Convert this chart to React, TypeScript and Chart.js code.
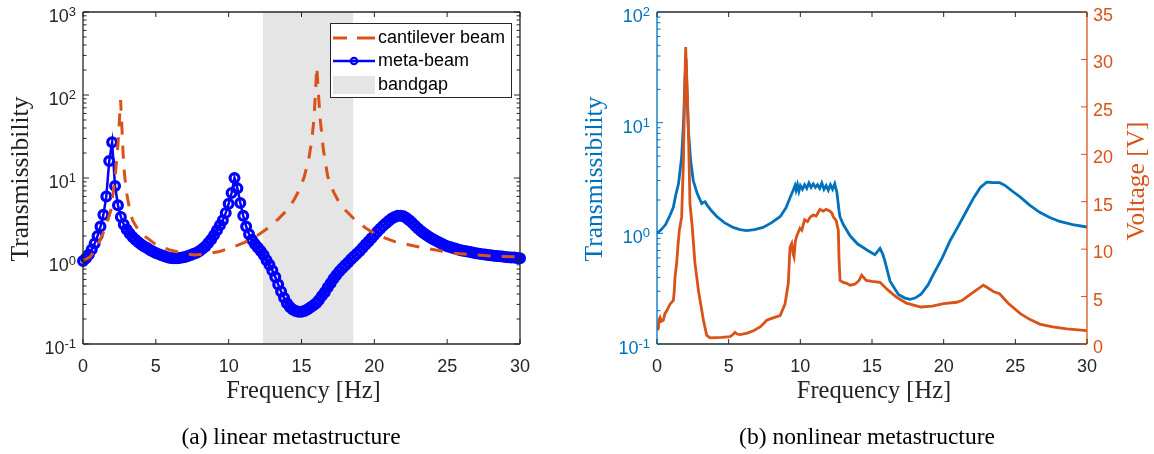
import React, { useEffect, useRef } from "react";
import { Chart, registerables } from "chart.js";
Chart.register(...registerables);

// ---------- (a) linear metastructure ----------
const cantileverFreq = [
  0, 0.5, 1.0, 1.5, 1.9, 2.2, 2.4, 2.5, 2.58, 2.66,
  2.75, 2.85, 3.0, 3.2, 3.4, 3.8, 4.3, 5.0, 5.9, 7.0,
  7.7, 8.5, 9.3, 10.2, 11.1, 12.0, 12.7, 13.4, 14.0, 14.5,
  14.9, 15.2, 15.5, 15.7, 15.85, 15.95, 16.05, 16.15, 16.3, 16.5,
  16.8, 17.2, 17.5, 18.0, 18.7, 19.4, 20.0, 20.7, 21.4, 22.5,
  23.5, 24.5, 25.5, 27.0, 28.7, 30.0,
];
const cantileverT = [
  1.0, 1.12, 1.55, 2.4, 4.0, 10, 25, 50, 87, 45,
  20, 11, 6.5, 4.2, 3.1, 2.35, 1.95, 1.58, 1.37, 1.22,
  1.18, 1.22, 1.29, 1.45, 1.68, 2.05, 2.5, 3.2, 4.1, 5.5,
  7.5, 10.5, 17, 28, 50, 100, 218, 110, 48, 22,
  10.4, 6.8, 5.4, 4.1, 3.1, 2.5, 2.15, 1.9, 1.71, 1.55,
  1.43, 1.33, 1.24, 1.18, 1.13, 1.12,
];

const metaFreq = [
  0.0, 0.2, 0.4, 0.6, 0.8, 1.0, 1.2, 1.4, 1.6, 1.8,
  2.0, 2.2, 2.4, 2.6, 2.8, 3.0, 3.2, 3.4, 3.6, 3.8,
  4.0, 4.2, 4.4, 4.6, 4.8, 5.0, 5.2, 5.4, 5.6, 5.8,
  6.0, 6.2, 6.4, 6.6, 6.8, 7.0, 7.2, 7.4, 7.6, 7.8,
  8.0, 8.2, 8.4, 8.6, 8.8, 9.0, 9.2, 9.4, 9.6, 9.8,
  10.0, 10.2, 10.4, 10.6, 10.8, 11.0, 11.2, 11.4, 11.6, 11.8,
  12.0, 12.2, 12.4, 12.6, 12.8, 13.0, 13.2, 13.4, 13.6, 13.8,
  14.0, 14.2, 14.4, 14.6, 14.8, 15.0, 15.2, 15.4, 15.6, 15.8,
  16.0, 16.2, 16.4, 16.6, 16.8, 17.0, 17.2, 17.4, 17.6, 17.8,
  18.0, 18.2, 18.4, 18.6, 18.8, 19.0, 19.2, 19.4, 19.6, 19.8,
  20.0, 20.2, 20.4, 20.6, 20.8, 21.0, 21.2, 21.4, 21.6, 21.8,
  22.0, 22.2, 22.4, 22.6, 22.8, 23.0, 23.2, 23.4, 23.6, 23.8,
  24.0, 24.2, 24.4, 24.6, 24.8, 25.0, 25.2, 25.4, 25.6, 25.8,
  26.0, 26.2, 26.4, 26.6, 26.8, 27.0, 27.2, 27.4, 27.6, 27.8,
  28.0, 28.2, 28.4, 28.6, 28.8, 29.0, 29.2, 29.4, 29.6, 29.8,
  30.0,
];
const metaT = [
  1.0, 1.08, 1.2, 1.38, 1.62, 2.0, 2.6, 3.6, 6.0, 16.0,
  27.0, 8.0, 4.7, 3.4, 2.75, 2.4, 2.15, 1.95, 1.8, 1.68,
  1.58, 1.5, 1.43, 1.36, 1.3, 1.25, 1.21, 1.17, 1.14, 1.11,
  1.09, 1.08, 1.08, 1.09, 1.1, 1.12, 1.15, 1.18, 1.22, 1.26,
  1.32, 1.4, 1.5, 1.65, 1.82, 2.05, 2.35, 2.7, 3.1, 3.8,
  4.9, 6.6, 10.0, 7.5, 5.0, 3.5, 2.6, 2.1, 1.8, 1.6,
  1.45, 1.32, 1.18, 1.02, 0.9, 0.77, 0.64, 0.52, 0.43, 0.36,
  0.31, 0.28, 0.26, 0.25, 0.245, 0.245, 0.25, 0.26, 0.275, 0.29,
  0.31, 0.34, 0.38, 0.42, 0.48, 0.54, 0.61, 0.68, 0.75, 0.82,
  0.89, 0.96, 1.05, 1.13, 1.22, 1.32, 1.44, 1.58, 1.72, 1.88,
  2.05, 2.25, 2.45, 2.65, 2.85, 3.05, 3.25, 3.4, 3.5, 3.52,
  3.45, 3.3, 3.1, 2.88, 2.66, 2.46, 2.3, 2.16, 2.04, 1.93,
  1.84, 1.76, 1.69, 1.62, 1.56, 1.51, 1.47, 1.43, 1.4, 1.37,
  1.34, 1.32, 1.3, 1.28, 1.26, 1.24, 1.22, 1.21, 1.2, 1.18,
  1.17, 1.16, 1.15, 1.14, 1.13, 1.12, 1.11, 1.1, 1.1, 1.09,
  1.08,
];
const bandgap = [12.35, 18.55];

// ---------- (b) nonlinear metastructure ----------
const nlFreqT = [
  0.0, 0.3, 0.6, 0.9, 1.14, 1.3, 1.5, 1.72, 1.85, 1.95,
  2.02, 2.1, 2.19, 2.35, 2.53, 2.8, 3.12, 3.22, 3.35, 3.5,
  3.8, 4.17, 4.7, 5.3, 5.8, 6.26, 6.8, 7.4, 8.0, 8.6,
  9.0, 9.28, 9.5, 9.63, 9.7, 9.8, 9.9, 10.0, 10.15, 10.3,
  10.45, 10.6, 10.75, 10.9, 11.05, 11.2, 11.35, 11.5, 11.65, 11.8,
  11.95, 12.1, 12.25, 12.4, 12.55, 12.7, 12.77, 13.0, 13.47, 14.0,
  14.28, 14.7, 15.2, 15.45, 15.56, 15.75, 15.9, 16.26, 16.84, 17.3,
  17.66, 18.0, 18.4, 18.9, 19.3, 19.9, 20.45, 21.0, 21.6, 22.1,
  22.56, 23.0, 23.4, 23.9, 24.3, 24.8, 25.35, 26.0, 26.7, 27.4,
  28.1, 29.0, 30.0,
];
const nlTrans = [
  1.0, 1.08, 1.2, 1.45, 1.72, 2.2, 2.8, 4.9, 10, 24,
  38, 18, 8.5, 4.5, 3.0, 2.3, 1.86, 1.9, 1.93, 1.8,
  1.6, 1.42, 1.25, 1.13, 1.08, 1.06, 1.08, 1.13, 1.25, 1.42,
  1.7, 2.1, 2.45, 2.7, 2.45, 2.75, 2.4, 2.7, 2.5, 2.75,
  2.55, 2.85, 2.6, 2.8, 2.6, 2.75, 2.55, 2.85, 2.5, 2.7,
  2.45, 2.75, 2.5, 2.8, 2.35, 1.6, 1.4, 1.2, 0.95, 0.8,
  0.76, 0.7, 0.64, 0.7, 0.73, 0.65, 0.56, 0.37, 0.28, 0.26,
  0.253, 0.26, 0.28, 0.34, 0.43, 0.6, 0.86, 1.15, 1.6, 2.1,
  2.6, 2.9, 2.88, 2.87, 2.7, 2.4, 2.12, 1.8, 1.55, 1.39,
  1.28, 1.2, 1.14,
];
const nlFreqV = [
  0.0, 0.09, 0.15, 0.21, 0.3, 0.44, 0.55, 0.68, 0.91, 1.14,
  1.2, 1.26, 1.37, 1.47, 1.56, 1.72, 1.84, 1.95, 2.0, 2.08,
  2.19, 2.3, 2.45, 2.65, 2.89, 3.05, 3.24, 3.47, 3.7, 4.5,
  5.09, 5.3, 5.44, 5.6, 5.8, 6.3, 6.73, 7.2, 7.66, 8.1,
  8.59, 8.93, 9.16, 9.28, 9.4, 9.5, 9.56, 9.65, 9.73, 9.97,
  10.1, 10.3, 10.5, 10.7, 10.9, 11.1, 11.37, 11.6, 11.8, 12.07,
  12.2, 12.3, 12.5, 12.65, 12.7, 12.77, 13.0, 13.24, 13.47, 13.8,
  14.1, 14.28, 14.6, 15.0, 15.56, 16.1, 16.7, 17.4, 18.4, 19.2,
  20.0, 20.9, 21.3, 21.6, 22.2, 22.77, 23.1, 23.5, 23.9, 24.5,
  25.35, 26.0, 26.7, 27.6, 28.6, 30.0,
];
const nlVolt = [
  1.5, 1.6, 2.6, 2.8, 2.4, 2.5, 3.2, 3.5, 4.2, 4.6,
  5.5, 7.1, 8.5, 10.5, 12.0, 13.4, 19.1, 28, 31.3, 28,
  22.6, 14.8, 12.5, 8.5, 5.65, 4.2, 2.5, 0.9, 0.64, 0.7,
  0.77, 1.0, 1.23, 1.05, 1.0, 1.15, 1.4, 1.8, 2.5, 2.75,
  3.0, 4.2, 6.4, 10.2, 10.6, 9.5, 9.2, 10.8, 11.3, 12.2,
  12.0, 13.1, 12.9, 13.4, 13.6, 13.5, 14.2, 14.0, 14.2, 14.0,
  13.8, 13.4, 13.0, 12.0, 9.0, 6.7, 6.5, 6.4, 6.2, 6.3,
  6.7, 7.25, 6.7, 6.6, 6.5, 5.7, 4.95, 4.3, 3.9, 4.0,
  4.25, 4.4, 4.6, 4.95, 5.6, 6.2, 5.9, 5.5, 5.3, 4.3,
  3.2, 2.6, 2.1, 1.8, 1.6, 1.4,
];

// ---------- ticks & labels ----------
const freqTicks = [0, 5, 10, 15, 20, 25, 30];
const decadesA = [-1, 0, 1, 2, 3];
const decadesB = [-1, 0, 1, 2];
const voltTicks = [0, 5, 10, 15, 20, 25, 30, 35];
const legendLabels = ["cantilever beam", "meta-beam", "bandgap"];

const BLUE = "#0072BD";
const ORANGE = "#D95319";
const META = "#0000FF";
const AX = "#262626";
const BAND = "#E5E5E5";
const SANS = '"Liberation Sans", Arial, sans-serif';
const SERIF = '"Liberation Serif", "Times New Roman", serif';

function seg(ctx: CanvasRenderingContext2D, x1: number, y1: number, x2: number, y2: number, color: string) {
  ctx.strokeStyle = color;
  ctx.beginPath();
  ctx.moveTo(x1, y1);
  ctx.lineTo(x2, y2);
  ctx.stroke();
}

type FrameCfg = {
  band?: number[];
  leftColor: string;
  rightColor: string;
  decades: number[];
  linId?: string;
  leftTitle: string;
  rightTitle?: string;
  caption: string;
  captionX: number;
  legend?: boolean;
};

function makeFrame(cfg: FrameCfg) {
  return {
    id: "frame",
    beforeDatasetsDraw(chart: any) {
      if (!cfg.band) return;
      const { ctx, chartArea: ca, scales } = chart;
      const x0 = scales.x.getPixelForValue(cfg.band[0]);
      const x1 = scales.x.getPixelForValue(cfg.band[1]);
      ctx.save();
      ctx.fillStyle = BAND;
      ctx.fillRect(x0, ca.top, x1 - x0, ca.bottom - ca.top);
      ctx.restore();
    },
    afterDraw(chart: any) {
      const { ctx, chartArea: ca, scales } = chart;
      const L = ca.left, R = ca.right, T = ca.top, B = ca.bottom;
      ctx.save();
      ctx.lineWidth = 1.3;
      seg(ctx, L, B, R, B, AX);
      seg(ctx, L, T, R, T, AX);
      seg(ctx, L, T, L, B, cfg.leftColor);
      seg(ctx, R, T, R, B, cfg.rightColor);

      ctx.lineWidth = 1;
      // x ticks + labels
      ctx.font = `18px ${SANS}`;
      ctx.fillStyle = AX;
      ctx.textAlign = "center";
      ctx.textBaseline = "alphabetic";
      for (const v of freqTicks) {
        const x = scales.x.getPixelForValue(v);
        seg(ctx, x, B, x, B - 5, AX);
        seg(ctx, x, T, x, T + 5, AX);
        ctx.fillText(String(v), x, B + 28);
      }
      // log y ticks
      const ys = scales.y;
      const dec = cfg.decades;
      for (let k = 0; k < dec.length; k++) {
        const d = dec[k];
        const y = ys.getPixelForValue(Math.pow(10, d));
        seg(ctx, L, y, L + 6, y, cfg.leftColor);
        if (!cfg.linId) seg(ctx, R, y, R - 6, y, AX);
        if (k < dec.length - 1) {
          for (let m = 2; m <= 9; m++) {
            const ym = ys.getPixelForValue(m * Math.pow(10, d));
            seg(ctx, L, ym, L + 3.5, ym, cfg.leftColor);
            if (!cfg.linId) seg(ctx, R, ym, R - 3.5, ym, AX);
          }
        }
        const sup = String(d);
        ctx.fillStyle = cfg.linId ? cfg.leftColor : AX;
        ctx.textAlign = "right";
        ctx.font = `13px ${SANS}`;
        const sw = ctx.measureText(sup).width;
        ctx.fillText(sup, L - 7, y + 4);
        ctx.font = `18px ${SANS}`;
        ctx.fillText("10", L - 7 - sw, y + 10);
      }
      // right linear axis
      if (cfg.linId) {
        const yr = scales[cfg.linId];
        ctx.font = `18px ${SANS}`;
        ctx.fillStyle = cfg.rightColor;
        ctx.textAlign = "left";
        for (const v of voltTicks) {
          const y = yr.getPixelForValue(v);
          seg(ctx, R, y, R - 6, y, cfg.rightColor);
          ctx.fillText(String(v), R + 6, y + 9);
        }
      }
      // axis titles
      ctx.font = `24.5px ${SERIF}`;
      ctx.textAlign = "center";
      ctx.fillStyle = "#222";
      ctx.fillText("Frequency [Hz]", (L + R) / 2 + 2, B + 54);
      ctx.font = `25.5px ${SERIF}`;
      ctx.save();
      ctx.translate(L - 62, (T + B) / 2 + 1);
      ctx.rotate(-Math.PI / 2);
      ctx.textBaseline = "middle";
      ctx.fillStyle = cfg.linId ? cfg.leftColor : "#222";
      ctx.fillText(cfg.leftTitle, 0, 0);
      ctx.restore();
      if (cfg.rightTitle) {
        ctx.save();
        ctx.translate(R + 50, (T + B) / 2 + 3);
        ctx.rotate(-Math.PI / 2);
        ctx.textBaseline = "middle";
        ctx.fillStyle = cfg.rightColor;
        ctx.fillText(cfg.rightTitle, 0, 0);
        ctx.restore();
      }
      // caption
      ctx.font = `23.5px ${SERIF}`;
      ctx.fillStyle = "#000";
      ctx.textAlign = "center";
      ctx.textBaseline = "alphabetic";
      ctx.fillText(cfg.caption, cfg.captionX, 444);

      // legend
      if (cfg.legend) {
        const bx = R - 190, by = T + 11, bw = 181, bh = 74;
        ctx.fillStyle = "#fff";
        ctx.fillRect(bx, by, bw, bh);
        ctx.lineWidth = 1;
        ctx.strokeStyle = AX;
        ctx.strokeRect(bx + 0.5, by + 0.5, bw, bh);
        const sx0 = R - 187, sx1 = R - 145, tx = R - 142;
        const r1 = T + 26, r2 = T + 49, r3 = T + 73;
        ctx.lineWidth = 3;
        seg(ctx, sx0, r1, sx0 + 14, r1, ORANGE);
        seg(ctx, sx0 + 24, r1, sx1, r1, ORANGE);
        ctx.lineWidth = 2.5;
        seg(ctx, sx0, r2, sx1, r2, META);
        ctx.lineWidth = 2.2;
        ctx.beginPath();
        ctx.arc((sx0 + sx1) / 2, r2, 3.2, 0, Math.PI * 2);
        ctx.stroke();
        ctx.fillStyle = BAND;
        ctx.fillRect(sx0, r3 - 9, sx1 - sx0, 18);
        ctx.font = `18px ${SANS}`;
        ctx.fillStyle = "#000";
        ctx.textAlign = "left";
        ctx.textBaseline = "middle";
        ctx.fillText(legendLabels[0], tx, r1);
        ctx.fillText(legendLabels[1], tx, r2);
        ctx.fillText(legendLabels[2], tx, r3);
      }
      ctx.restore();
    },
  };
}

const hiddenScale = {
  ticks: { display: false },
  grid: { display: false },
  border: { display: false },
};

function configA(): any {
  return {
    type: "line",
    data: {
      datasets: [
        {
          label: legendLabels[0],
          data: cantileverFreq.map((x, i) => ({ x, y: cantileverT[i] })),
          borderColor: ORANGE,
          borderWidth: 3,
          borderDash: [13, 11],
          pointRadius: 0,
          fill: false,
          tension: 0,
        },
        {
          label: legendLabels[1],
          data: metaFreq.map((x, i) => ({ x, y: metaT[i] })),
          borderColor: META,
          borderWidth: 2.5,
          pointRadius: 4.4,
          pointBorderWidth: 3.2,
          pointBorderColor: META,
          pointBackgroundColor: "rgba(0,0,0,0)",
          fill: false,
          tension: 0,
          clip: false,
        },
      ],
    },
    options: {
      animation: false,
      responsive: false,
      events: [],
      layout: { padding: { top: 12, right: 40, left: 0, bottom: 0 } },
      plugins: { legend: { display: false }, tooltip: { enabled: false } },
      scales: {
        x: { type: "linear", min: 0, max: 30, ...hiddenScale, afterFit: (s: any) => { s.height = 110; } },
        y: { type: "logarithmic", min: 0.1, max: 1000, ...hiddenScale, afterFit: (s: any) => { s.width = 83; } },
      },
    },
    plugins: [
      makeFrame({
        band: bandgap,
        leftColor: AX,
        rightColor: AX,
        decades: decadesA,
        leftTitle: "Transmissibility",
        caption: "(a) linear metastructure",
        captionX: 291,
        legend: true,
      }),
    ],
  };
}

function configB(): any {
  return {
    type: "line",
    data: {
      datasets: [
        {
          label: "Voltage",
          yAxisID: "y2",
          data: nlFreqV.map((x, i) => ({ x, y: nlVolt[i] })),
          borderColor: ORANGE,
          borderWidth: 2.8,
          pointRadius: 0,
          fill: false,
          tension: 0,
        },
        {
          label: "Transmissibility",
          yAxisID: "y",
          data: nlFreqT.map((x, i) => ({ x, y: nlTrans[i] })),
          borderColor: BLUE,
          borderWidth: 2.8,
          pointRadius: 0,
          fill: false,
          tension: 0,
        },
      ],
    },
    options: {
      animation: false,
      responsive: false,
      events: [],
      layout: { padding: { top: 12, right: 0, left: 0, bottom: 0 } },
      plugins: { legend: { display: false }, tooltip: { enabled: false } },
      scales: {
        x: { type: "linear", min: 0, max: 30, ...hiddenScale, afterFit: (s: any) => { s.height = 110; } },
        y: { type: "logarithmic", position: "left", min: 0.1, max: 100, ...hiddenScale, afterFit: (s: any) => { s.width = 77; } },
        y2: { type: "linear", position: "right", min: 0, max: 35, ...hiddenScale, afterFit: (s: any) => { s.width = 67; } },
      },
    },
    plugins: [
      makeFrame({
        leftColor: BLUE,
        rightColor: ORANGE,
        decades: decadesB,
        linId: "y2",
        leftTitle: "Transmissibility",
        rightTitle: "Voltage [V]",
        caption: "(b) nonlinear metastructure",
        captionX: 287,
      }),
    ],
  };
}

export default function App() {
  const refA = useRef<HTMLCanvasElement>(null);
  const refB = useRef<HTMLCanvasElement>(null);
  useEffect(() => {
    const a = new Chart(refA.current as HTMLCanvasElement, configA());
    const b = new Chart(refB.current as HTMLCanvasElement, configB());
    return () => {
      a.destroy();
      b.destroy();
    };
  }, []);
  return (
    <div style={{ position: "absolute", left: 0, top: 0, width: 1154, height: 454, background: "#fff" }}>
      <canvas ref={refA} width={560} height={454} style={{ position: "absolute", left: 0, top: 0, width: 560, height: 454 }} />
      <canvas ref={refB} width={574} height={454} style={{ position: "absolute", left: 580, top: 0, width: 574, height: 454 }} />
    </div>
  );
}
